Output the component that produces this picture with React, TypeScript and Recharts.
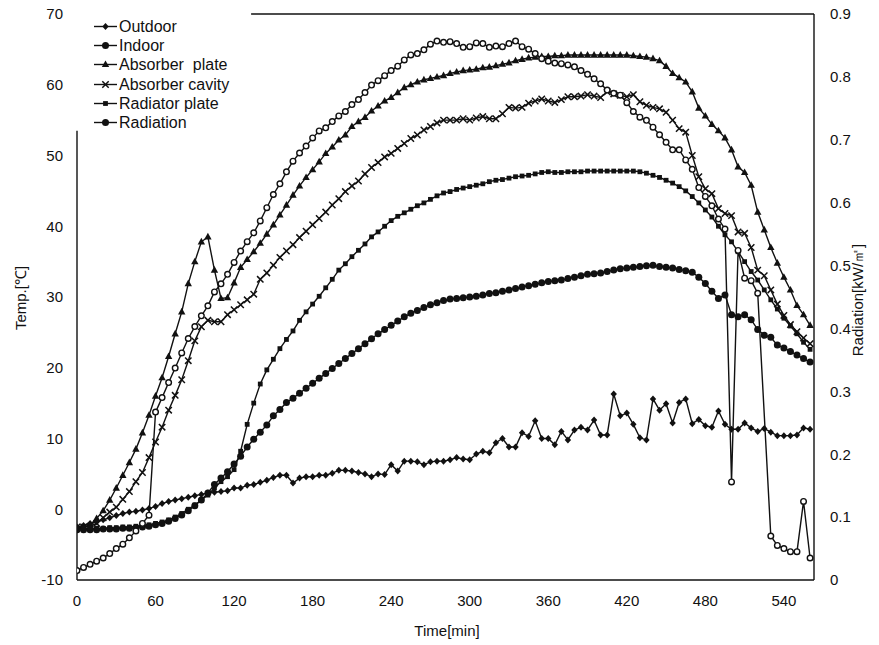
import React from "react";
import { ComposedChart, Line, XAxis, YAxis, ReferenceLine } from "recharts";

// sampling grid: one reading every 5 min, 0..560
const times = Array.from({ length: 113 }, (_, i) => i * 5);

const xTicks = [0, 60, 120, 180, 240, 300, 360, 420, 480, 540];
const tempTicks = [-10, 0, 10, 20, 30, 40, 50, 60, 70];
const radTicks = [0, 0.1, 0.2, 0.3, 0.4, 0.5, 0.6, 0.7, 0.8, 0.9];

// temperatures [°C]
const outdoor = [
  -2.5, -2.3, -2.0, -1.8, -1.5, -1.2, -0.9, -0.6, -0.4, -0.3,
  -0.1, 0.1, 0.4, 0.8, 1.1, 1.3, 1.5, 1.7, 1.9, 2.1,
  2.3, 2.4, 2.5, 2.6, 3.0, 3.0, 3.4, 3.5, 3.8, 4.1,
  4.5, 4.8, 4.8, 3.7, 4.4, 4.6, 4.6, 4.8, 4.8, 5.1,
  5.5, 5.5, 5.4, 5.2, 5.0, 4.6, 5.0, 4.9, 6.3, 5.4,
  6.8, 6.8, 6.7, 6.3, 6.7, 6.8, 6.8, 7.0, 7.3, 7.1,
  7.0, 7.8, 8.2, 8.0, 9.4, 10.0, 8.8, 8.8, 10.8, 10.3,
  12.5, 10.0, 10.0, 9.1, 11.0, 9.8, 11.2, 11.6, 11.2, 12.6,
  10.5, 10.5, 16.3, 13.2, 13.6, 12.0, 10.1, 9.8, 15.6, 14.0,
  14.9, 12.2, 15.1, 15.6, 12.1, 12.7, 11.8, 11.6, 13.9, 12.0,
  11.3, 11.3, 12.2, 11.5, 11.0, 11.4, 10.9, 10.4, 10.4, 10.4,
  10.5, 11.5, 11.3,
];

const indoor = [
  -2.9, -2.9, -2.9, -2.9, -2.8, -2.8, -2.8, -2.7, -2.7, -2.6,
  -2.5, -2.4, -2.2, -2.0, -1.7, -1.3, -0.8, -0.2, 0.5, 1.3,
  2.3, 3.5, 4.4, 5.3, 6.4, 7.5, 8.8, 9.9, 10.9, 11.9,
  13.2, 14.1, 15.1, 15.7, 16.4, 17.1, 17.8, 18.5, 19.2, 19.9,
  20.6, 21.3, 22.0, 22.7, 23.4, 24.1, 24.8, 25.4, 26.0, 26.6,
  27.2, 27.7, 28.1, 28.5, 28.9, 29.2, 29.5, 29.7, 29.8, 29.9,
  30.0, 30.1, 30.3, 30.5, 30.6, 30.8, 31.0, 31.2, 31.4, 31.6,
  31.8, 32.0, 32.2, 32.3, 32.4, 32.6, 32.8, 33.0, 33.2, 33.3,
  33.4, 33.6, 33.8, 34.0, 34.1, 34.2, 34.3, 34.4, 34.5, 34.3,
  34.2, 34.1, 33.9, 33.7, 33.5, 32.8, 31.9, 30.8, 29.8, 30.3,
  27.5, 27.2, 27.5, 26.8, 25.4, 24.6, 24.3, 23.2, 22.8, 22.3,
  21.8, 21.3, 20.8,
];

const absorberPlate = [
  -2.6, -2.5, -2.2, -1.3, -0.2, 1.3, 3.0, 4.8, 6.6, 8.5,
  10.8, 13.3, 16.0, 18.6, 21.6, 24.8, 27.9, 31.9, 35.0, 37.8,
  38.5, 33.8, 29.8, 29.9, 32.0, 34.2, 35.3, 36.4, 37.6, 38.9,
  40.2, 41.6, 43.0, 44.4, 45.7, 46.9, 48.0, 49.1, 50.3, 51.2,
  52.2, 52.9, 54.1, 54.8, 55.4, 56.3, 57.0, 57.7, 58.2, 58.9,
  59.6, 60.0, 60.4, 60.7, 60.9, 61.1, 61.3, 61.6, 61.8, 62.0,
  62.1, 62.2, 62.4, 62.5, 62.7, 62.9, 63.1, 63.4, 63.6, 63.8,
  63.9, 64.0, 64.0, 64.1, 64.1, 64.2, 64.2, 64.2, 64.2, 64.2,
  64.2, 64.2, 64.2, 64.2, 64.2, 64.1, 64.0, 63.9, 63.7, 63.4,
  62.6, 61.6, 61.0, 60.4, 59.0, 56.7, 55.6, 54.4, 53.5, 52.5,
  50.8, 48.4, 47.6, 45.8, 42.0, 39.5, 37.0, 34.8, 32.8, 31.0,
  28.8, 27.5, 26.0,
];

const absorberCavity = [
  -2.5, -2.5, -2.4, -2.0, -1.2, -0.4, 0.3, 1.4, 2.5, 3.9,
  5.2, 7.3, 9.5, 11.6, 14.0, 16.1, 18.3, 21.0, 23.8, 25.8,
  26.7, 26.5, 26.5, 27.5, 28.2, 28.9, 29.6, 30.4, 32.5, 33.4,
  34.5, 35.6, 36.5, 37.4, 38.4, 39.3, 40.2, 41.1, 42.0, 43.0,
  43.9, 44.9, 45.7, 46.4, 47.4, 48.3, 49.0, 49.8, 50.3, 51.0,
  51.7, 52.4, 52.9, 53.6, 54.1, 54.6, 55.0, 55.0, 55.0, 55.2,
  55.0, 55.3, 55.5, 55.2, 55.2, 55.9, 56.8, 56.7, 56.8, 57.4,
  57.7, 58.0, 57.7, 57.5, 57.9, 58.3, 58.3, 58.4, 58.6, 58.4,
  58.2, 59.0, 58.7, 58.5, 58.3, 58.6, 57.6, 57.1, 56.8, 56.6,
  56.1, 55.0, 53.8, 53.3, 50.0, 47.0, 45.3, 44.6, 42.5, 41.8,
  41.5, 39.2, 39.0, 37.0, 33.8, 33.0, 31.0, 29.0, 27.4, 26.1,
  25.1, 24.2, 23.4,
];

const radiatorPlate = [
  -2.7, -2.7, -2.7, -2.7, -2.7, -2.6, -2.6, -2.5, -2.5, -2.4,
  -2.3, -2.2, -2.0, -1.8, -1.5, -1.1, -0.6, 0.0, 0.6, 1.3,
  2.0, 3.0, 3.9, 4.6, 5.6, 8.2, 12.0, 15.0, 17.7, 19.7,
  21.2, 22.7, 24.0, 25.2, 26.7, 27.9, 29.0, 30.1, 31.3, 32.5,
  33.8, 34.7, 35.7, 36.6, 37.5, 38.5, 39.2, 40.0, 40.8, 41.4,
  41.9, 42.4, 42.9, 43.3, 43.8, 44.3, 44.7, 44.9, 45.2, 45.4,
  45.6, 45.8, 46.0, 46.3, 46.5, 46.6, 46.8, 47.0, 47.1, 47.2,
  47.4, 47.6, 47.7, 47.6, 47.6, 47.7, 47.7, 47.7, 47.8, 47.8,
  47.8, 47.8, 47.8, 47.8, 47.8, 47.8, 47.7, 47.5, 47.2, 46.9,
  46.5, 46.1, 45.6, 45.0, 44.2, 43.3, 42.3, 41.3, 40.0, 38.8,
  37.8, 36.4, 35.0, 33.6, 32.4, 31.0, 29.6, 28.3, 27.0, 25.9,
  24.8, 23.6, 22.6,
];

// solar radiation [kW/m2], right axis
const radiation = [
  0.015, 0.02, 0.025, 0.03, 0.035, 0.042, 0.05, 0.057, 0.067, 0.078,
  0.09, 0.103, 0.267, 0.29, 0.314, 0.337, 0.361, 0.384, 0.403, 0.42,
  0.436, 0.458, 0.471, 0.486, 0.505, 0.523, 0.538, 0.552, 0.571, 0.592,
  0.613, 0.63, 0.649, 0.666, 0.679, 0.69, 0.703, 0.714, 0.719, 0.729,
  0.738, 0.745, 0.756, 0.764, 0.775, 0.787, 0.794, 0.802, 0.81, 0.817,
  0.827, 0.835, 0.837, 0.843, 0.852, 0.857, 0.855, 0.856, 0.853, 0.847,
  0.848, 0.854, 0.853, 0.847, 0.849, 0.848, 0.853, 0.857, 0.848, 0.844,
  0.837, 0.829, 0.825, 0.822, 0.821, 0.819, 0.816, 0.81, 0.804, 0.797,
  0.789, 0.779, 0.774, 0.771, 0.759, 0.745, 0.736, 0.731, 0.72, 0.708,
  0.696, 0.684, 0.684, 0.668, 0.653, 0.624, 0.61, 0.595, 0.574, 0.558,
  0.156, 0.524, 0.48, 0.476, 0.456, null, 0.07, 0.055, 0.05, 0.045,
  0.045, 0.125, 0.035,
];

const rows = times.map((t, i) => ({
  t,
  outdoor: outdoor[i],
  indoor: indoor[i],
  absorberPlate: absorberPlate[i],
  absorberCavity: absorberCavity[i],
  radiatorPlate: radiatorPlate[i],
  radiation: radiation[i],
}));

const ink = "#111";
const font = '"Liberation Sans", Arial, Helvetica, sans-serif';
const tickStyle = { fill: ink, fontSize: 15, fontFamily: font };

type Mark = (cx: number, cy: number, key?: string | number) => React.ReactElement;

const diamond: Mark = (cx, cy, key) => (
  <path key={key} d={`M${cx},${cy - 3.5}L${cx + 3.2},${cy}L${cx},${cy + 3.5}L${cx - 3.2},${cy}Z`} fill={ink} />
);
const disc: Mark = (cx, cy, key) => <circle key={key} cx={cx} cy={cy} r={3.5} fill={ink} />;
const triangle: Mark = (cx, cy, key) => (
  <path key={key} d={`M${cx},${cy - 4}L${cx + 3.7},${cy + 2.6}L${cx - 3.7},${cy + 2.6}Z`} fill={ink} />
);
const cross: Mark = (cx, cy, key) => (
  <path
    key={key}
    d={`M${cx - 3.2},${cy - 3.2}L${cx + 3.2},${cy + 3.2}M${cx - 3.2},${cy + 3.2}L${cx + 3.2},${cy - 3.2}`}
    stroke={ink}
    strokeWidth={1.5}
    fill="none"
  />
);
const square: Mark = (cx, cy, key) => <rect key={key} x={cx - 2.4} y={cy - 2.4} width={4.8} height={4.8} fill={ink} />;
const ring: Mark = (cx, cy, key) => (
  <circle key={key} cx={cx} cy={cy} r={2.8} fill="#fff" stroke={ink} strokeWidth={1.4} />
);

const dotOf = (mark: Mark) => (p: any) => {
  const k = `d${p.index}`;
  if (p.value == null || !Number.isFinite(p.cx) || !Number.isFinite(p.cy)) return <g key={k} />;
  return mark(p.cx, p.cy, k);
};

const series = [
  { key: "outdoor", label: "Outdoor", mark: diamond, axis: "temp", legendMark: diamond },
  { key: "indoor", label: "Indoor", mark: disc, axis: "temp", legendMark: disc },
  { key: "absorberPlate", label: "Absorber  plate", mark: triangle, axis: "temp", legendMark: triangle },
  { key: "absorberCavity", label: "Absorber cavity", mark: cross, axis: "temp", legendMark: cross },
  { key: "radiatorPlate", label: "Radiator plate", mark: square, axis: "temp", legendMark: square },
  { key: "radiation", label: "Radiation", mark: ring, axis: "rad", legendMark: disc },
];

function LegendBox() {
  return (
    <div style={{ position: "absolute", left: 93, top: 17, fontFamily: font, fontSize: 16, color: ink }}>
      {series.map((s) => (
        <div key={s.key} style={{ display: "flex", alignItems: "center", height: 19.2, whiteSpace: "pre" }}>
          <svg width={26} height={19} style={{ display: "block" }}>
            <line x1={1} y1={9.5} x2={24} y2={9.5} stroke={ink} strokeWidth={1.4} />
            {s.legendMark(12.5, 9.5)}
          </svg>
          <span style={{ lineHeight: "19px" }}>{s.label}</span>
        </div>
      ))}
    </div>
  );
}

export default function App() {
  return (
    <div style={{ position: "absolute", left: 0, top: 0, width: 879, height: 645, background: "#fff", fontFamily: font }}>
      <ComposedChart width={879} height={645} data={rows} margin={{ top: 14, right: 0, bottom: 0, left: 0 }}>
        <XAxis
          dataKey="t"
          type="number"
          domain={[0, 563]}
          ticks={xTicks}
          height={65}
          tickSize={0}
          tickMargin={15}
          axisLine={{ stroke: ink, strokeWidth: 1.4 }}
          tick={tickStyle}
          allowDataOverflow
        />
        <YAxis
          yAxisId="temp"
          domain={[-10, 70]}
          ticks={tempTicks}
          width={77}
          axisLine={false}
          tickSize={0}
          tickMargin={14}
          tick={tickStyle}
          allowDataOverflow
        />
        <YAxis
          yAxisId="rad"
          orientation="right"
          domain={[0, 0.9]}
          ticks={radTicks}
          width={65}
          axisLine={{ stroke: ink, strokeWidth: 1.4 }}
          tickSize={0}
          tickMargin={16}
          tick={tickStyle}
          allowDataOverflow
        />
        {/* frame pieces left visible around the legend */}
        <ReferenceLine yAxisId="temp" segment={[{ x: 0, y: -10 }, { x: 0, y: 53.5 }]} stroke={ink} strokeWidth={1.4} />
        <ReferenceLine yAxisId="temp" segment={[{ x: 133, y: 70 }, { x: 563, y: 70 }]} stroke={ink} strokeWidth={1.4} />
        {series.map((s) => (
          <Line
            key={s.key}
            yAxisId={s.axis}
            dataKey={s.key}
            type="linear"
            stroke={ink}
            strokeWidth={1.4}
            dot={dotOf(s.mark)}
            activeDot={false}
            connectNulls
            isAnimationActive={false}
          />
        ))}
      </ComposedChart>
      <LegendBox />
      <div
        style={{
          position: "absolute",
          left: 20,
          top: 298,
          transform: "translate(-50%, -50%) rotate(-90deg)",
          fontSize: 15,
          whiteSpace: "nowrap",
          color: ink,
        }}
      >
        Temp.[℃]
      </div>
      <div
        style={{
          position: "absolute",
          left: 858,
          top: 300,
          transform: "translate(-50%, -50%) rotate(-90deg)",
          fontSize: 15,
          whiteSpace: "nowrap",
          color: ink,
        }}
      >
        Radiation[kW/㎡]
      </div>
      <div
        style={{
          position: "absolute",
          left: 447,
          top: 630,
          transform: "translate(-50%, -50%)",
          fontSize: 15,
          whiteSpace: "nowrap",
          color: ink,
        }}
      >
        Time[min]
      </div>
    </div>
  );
}
